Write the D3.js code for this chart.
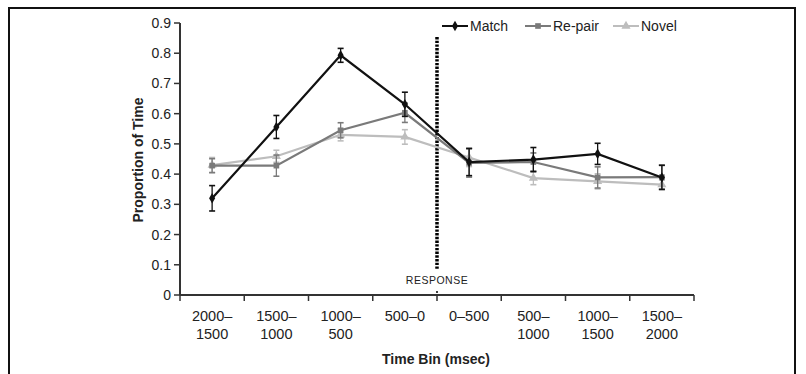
<!DOCTYPE html>
<html><head><meta charset="utf-8">
<script src="https://cdn.jsdelivr.net/npm/d3@7/dist/d3.min.js"></script>
<style>
html,body{margin:0;padding:0;background:#fff;}
svg{display:block;font-family:Arial,"Liberation Sans",sans-serif;}
</style></head>
<body>
<svg id="chart" width="806" height="374"></svg>
<script>
const categories = [["2000–","1500"],["1500–","1000"],["1000–","500"],["500–0",""],["0–500",""],["500–","1000"],["1000–","1500"],["1500–","2000"]];
const seriesNames = ["Match","Re-pair","Novel"];
const matchVals  = [0.32, 0.556, 0.793, 0.631, 0.44, 0.448, 0.467, 0.389];
const matchErr   = [0.042,0.038, 0.023, 0.04, 0.045, 0.04, 0.035, 0.04];
const repairVals = [0.428,0.428, 0.545, 0.603, 0.437,0.44, 0.389, 0.39];
const repairErr  = [0.023,0.035, 0.025, 0.032, 0.047,0.03, 0.035, 0.04];
const novelVals  = [0.43, 0.459, 0.53, 0.523, 0.455, 0.387, 0.376, 0.365];
const novelErr   = [0.025,0.02, 0.02, 0.024, 0.03, 0.022, 0.025, 0.015];
const yTicks = [0,0.1,0.2,0.3,0.4,0.5,0.6,0.7,0.8,0.9];
const responseLabel = "RESPONSE";

const svg = d3.select("#chart");
const colors = ["#111111","#7a7a7a","#bdbdbd"];
const series = [
  {name:seriesNames[0], vals:matchVals, err:matchErr, color:colors[0], shape:d3.symbolDiamond, size:32},
  {name:seriesNames[1], vals:repairVals, err:repairErr, color:colors[1], shape:d3.symbolSquare, size:32},
  {name:seriesNames[2], vals:novelVals, err:novelErr, color:colors[2], shape:d3.symbolTriangle, size:36}
];

// frame
svg.append("rect").attr("x",9).attr("y",8).attr("width",786).attr("height",380)
  .attr("fill","none").attr("stroke","#111").attr("stroke-width",2);

const x = d3.scaleBand().domain(d3.range(categories.length)).range([180,694]).padding(0);
const y = d3.scaleLinear().domain([0,0.9]).range([295,23]);
const cx = i => x(i) + x.bandwidth()/2;
const axisColor = "#333";
const textColor = "#222";

// y axis
svg.append("line").attr("x1",180).attr("x2",180).attr("y1",y(0.9)).attr("y2",y(0))
  .attr("stroke",axisColor).attr("stroke-width",2);
const yt = svg.append("g");
yTicks.forEach(t=>{
  yt.append("line").attr("x1",174).attr("x2",180).attr("y1",y(t)).attr("y2",y(t))
    .attr("stroke",axisColor).attr("stroke-width",1.5);
  yt.append("text").attr("x",171).attr("y",y(t)).attr("dy","0.36em")
    .attr("text-anchor","end").attr("font-size",14).attr("fill",textColor)
    .text(t===0?"0":d3.format(".1f")(t));
});
// x axis
svg.append("line").attr("x1",180).attr("x2",694).attr("y1",y(0)).attr("y2",y(0))
  .attr("stroke",axisColor).attr("stroke-width",2);
const bounds = d3.range(categories.length+1).map(i => i<categories.length ? x(i) : x(i-1)+x.bandwidth());
bounds.forEach(b=>{
  svg.append("line").attr("x1",b).attr("x2",b).attr("y1",y(0)).attr("y2",y(0)+6)
    .attr("stroke",axisColor).attr("stroke-width",1.5);
});
categories.forEach((c,i)=>{
  const t = svg.append("text").attr("text-anchor","middle").attr("font-size",14.5).attr("fill",textColor);
  t.append("tspan").attr("x",cx(i)).attr("y",321).text(c[0]);
  if(c[1]) t.append("tspan").attr("x",cx(i)).attr("y",339).text(c[1]);
});

// titles
svg.append("text").attr("transform","translate(143,160) rotate(-90)")
  .attr("text-anchor","middle").attr("font-size",14).attr("font-weight","bold").attr("fill",textColor)
  .text("Proportion of Time");
svg.append("text").attr("x",436).attr("y",364).attr("text-anchor","middle")
  .attr("font-size",14).attr("font-weight","bold").attr("fill",textColor).text("Time Bin (msec)");

// response line
const rx = x(4);
svg.append("line").attr("x1",rx).attr("x2",rx).attr("y1",37).attr("y2",269)
  .attr("stroke","#000").attr("stroke-width",3.5).attr("stroke-dasharray","2.4,1.3");
svg.append("line").attr("x1",rx).attr("x2",rx).attr("y1",291).attr("y2",293)
  .attr("stroke","#000").attr("stroke-width",1.5);
svg.append("text").attr("x",rx).attr("y",284).attr("text-anchor","middle")
  .attr("font-size",10.5).attr("letter-spacing",0.5).attr("fill",textColor).text(responseLabel);

// series (draw light first)
const line = d3.line().x((d,i)=>cx(i)).y(d=>y(d));
[...series].reverse().forEach(s=>{
  const g = svg.append("g");
  g.append("path").attr("d",line(s.vals)).attr("fill","none")
    .attr("stroke",s.color).attr("stroke-width",2.2);
  s.vals.forEach((v,i)=>{
    const e = s.err[i], px = cx(i);
    g.append("line").attr("x1",px).attr("x2",px).attr("y1",y(v+e)).attr("y2",y(v-e))
      .attr("stroke",s.color).attr("stroke-width",1.3);
    [v+e,v-e].forEach(w=>g.append("line").attr("x1",px-3).attr("x2",px+3).attr("y1",y(w)).attr("y2",y(w))
      .attr("stroke",s.color).attr("stroke-width",1.6));
    g.append("path").attr("d",d3.symbol().type(s.shape).size(s.size)())
      .attr("transform",`translate(${px},${y(v)})`).attr("fill",s.color);
  });
});

// legend
const legX = [442,525,613];
series.forEach((s,k)=>{
  const lg = svg.append("g");
  lg.append("line").attr("x1",legX[k]).attr("x2",legX[k]+26).attr("y1",26).attr("y2",26)
    .attr("stroke",s.color).attr("stroke-width",2);
  lg.append("path").attr("d",d3.symbol().type(s.shape).size(s.size)())
    .attr("transform",`translate(${legX[k]+13},26)`).attr("fill",s.color);
  lg.append("text").attr("x",legX[k]+28).attr("y",26).attr("dy","0.36em")
    .attr("font-size",14).attr("fill",textColor).text(s.name);
});
</script>
</body></html>
